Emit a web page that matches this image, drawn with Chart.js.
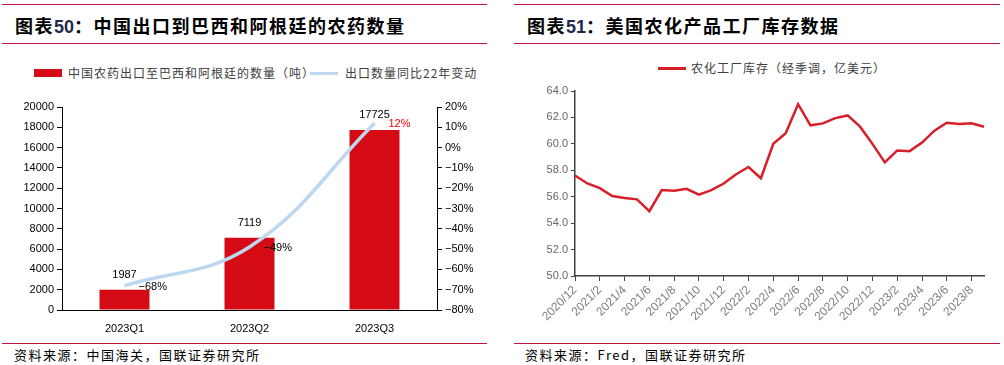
<!DOCTYPE html>
<html>
<head>
<meta charset="utf-8">
<script src="https://cdn.jsdelivr.net/npm/chart.js@4.4.0/dist/chart.umd.min.js"></script>
<style>
body{margin:0;width:1004px;height:365px;background:#fff;position:relative;overflow:hidden;font-family:"Noto Sans CJK SC",sans-serif;}
.rule{position:absolute;height:0;border-top:1.5px solid #C0143C;}
.title{position:absolute;top:12px;font-size:18px;font-weight:700;letter-spacing:1.5px;color:#000;line-height:26px;white-space:nowrap;}
.title .num{font-family:"Liberation Sans",Arial,sans-serif;color:#1F2A4C;letter-spacing:0;}
.legend{position:absolute;font-size:12px;color:#404040;line-height:16px;white-space:nowrap;letter-spacing:1px;}
.sw{position:absolute;}
.src{position:absolute;top:346px;font-size:13px;line-height:18px;color:#000;letter-spacing:1.5px;white-space:nowrap;}
canvas{position:absolute;}
</style>
</head>
<body>
<div class="rule" style="left:2px;top:4px;width:485px"></div>
<div class="title" style="left:15px">图表<span class="num">50</span>：中国出口到巴西和阿根廷的农药数量</div>
<div class="rule" style="left:2px;top:43px;width:485px"></div>

<div class="rule" style="left:514px;top:4px;width:486px"></div>
<div class="title" style="left:527px">图表<span class="num">51</span>：美国农化产品工厂库存数据</div>
<div class="rule" style="left:514px;top:43px;width:486px"></div>

<div class="sw" style="left:34px;top:69px;width:28px;height:8px;background:#D40A14"></div>
<div class="legend" id="lg1" style="left:68px;top:65px"></div>
<div class="sw" style="left:310px;top:72px;width:28px;height:3px;background:#BDD7EE"></div>
<div class="legend" id="lg2" style="left:345px;top:65px"></div>

<div class="sw" style="left:658px;top:67px;width:28px;height:2.5px;background:#D81E28"></div>
<div class="legend" id="lg3" style="left:691px;top:60px"></div>

<canvas id="c1" width="490" height="285" style="left:0;top:55px"></canvas>
<canvas id="c2" width="486" height="285" style="left:514px;top:55px"></canvas>

<div class="rule" style="left:2px;top:343px;width:485px"></div>
<div class="src" style="left:14px">资料来源：中国海关，国联证券研究所</div>
<div class="rule" style="left:514px;top:343px;width:486px"></div>
<div class="src" style="left:525px">资料来源：Fred，国联证券研究所</div>

<script>
// 图表50 data
const quarters = ['2023Q1', '2023Q2', '2023Q3'];
const exportTons = [1987, 7119, 17725];
const yoyChange = [-68, -49, 12];
const barName = '中国农药出口至巴西和阿根廷的数量（吨）';
const lineName = '出口数量同比22年变动';

// 图表51 data
const months = ['2020/12', '2021/1', '2021/2', '2021/3', '2021/4', '2021/5', '2021/6', '2021/7', '2021/8', '2021/9', '2021/10', '2021/11',
    '2021/12', '2022/1', '2022/2', '2022/3', '2022/4', '2022/5', '2022/6', '2022/7', '2022/8', '2022/9', '2022/10', '2022/11',
    '2022/12', '2023/1', '2023/2', '2023/3', '2023/4', '2023/5', '2023/6', '2023/7', '2023/8', '2023/9'];
const inventory = [57.6, 57.0, 56.65, 56.05, 55.9, 55.8, 54.9, 56.5, 56.45, 56.6, 56.15, 56.5,
    57.0, 57.7, 58.25, 57.4, 60.0, 60.8, 63.0, 61.4, 61.55, 61.95, 62.15, 61.3,
    60.0, 58.6, 59.5, 59.45, 60.1, 61.0, 61.6, 61.5, 61.55, 61.3];
const invName = '农化工厂库存（经季调，亿美元）';

document.getElementById('lg1').textContent = barName;
document.getElementById('lg2').textContent = lineName;
document.getElementById('lg3').textContent = invName;

const pct = v => (v < 0 ? '\u2212' : '') + Math.abs(v) + '%';
const arial = { family: '"Liberation Sans", Arial, sans-serif', size: 11 };

// value labels on bars and line points
const valueLabels = {
    id: 'valueLabels',
    afterDatasetsDraw(chart) {
        const ctx = chart.ctx;
        const bars = chart.getDatasetMeta(0).data;
        const pts = chart.getDatasetMeta(1).data;
        ctx.save();
        ctx.font = '11px "Liberation Sans", Arial, sans-serif';
        ctx.textBaseline = 'middle';
        ctx.textAlign = 'center';
        ctx.fillStyle = '#000';
        bars.forEach((b, i) => ctx.fillText(String(exportTons[i]), b.x, b.y - 15));
        ctx.textAlign = 'left';
        pts.forEach((p, i) => {
            ctx.fillStyle = yoyChange[i] > 0 ? '#FF0000' : '#000';
            ctx.fillText(pct(yoyChange[i]), p.x + 14, p.y + 1);
        });
        ctx.restore();
    }
};

new Chart(document.getElementById('c1'), {
    type: 'bar',
    data: {
        labels: quarters,
        datasets: [{
            label: barName,
            data: exportTons,
            backgroundColor: '#D40A14',
            categoryPercentage: 1,
            barPercentage: 0.4,
            yAxisID: 'y',
            order: 2
        }, {
            type: 'line',
            label: lineName,
            data: yoyChange,
            borderColor: '#BDD7EE',
            borderWidth: 3.5,
            pointRadius: 0,
            tension: 0.4,
            yAxisID: 'y1',
            order: 1
        }]
    },
    options: {
        responsive: false,
        animation: false,
        layout: { padding: { top: 52, left: 0, right: 0, bottom: 0 } },
        plugins: { legend: { display: false }, tooltip: { enabled: false } },
        scales: {
            x: {
                grid: { display: false, drawTicks: false },
                border: { color: '#000', width: 1 },
                ticks: { color: '#000', font: arial, padding: 12 },
                afterFit: s => { s.height = 30; }
            },
            y: {
                position: 'left',
                min: 0, max: 20000,
                ticks: { stepSize: 2000, color: '#000', font: arial, padding: 3, callback: v => String(v) },
                grid: { drawOnChartArea: false, tickLength: 5, color: '#000' },
                border: { color: '#000', width: 1 },
                afterFit: s => { s.width = 62; }
            },
            y1: {
                position: 'right',
                min: -80, max: 20,
                ticks: { stepSize: 10, color: '#000', font: arial, padding: 3, callback: v => pct(v) },
                grid: { drawOnChartArea: false, tickLength: 5, color: '#000' },
                border: { color: '#000', width: 1 },
                afterFit: s => { s.width = 53; }
            }
        }
    },
    plugins: [valueLabels]
});

new Chart(document.getElementById('c2'), {
    type: 'line',
    data: {
        labels: months,
        datasets: [{
            label: invName,
            data: inventory,
            borderColor: '#D81E28',
            borderWidth: 2.5,
            pointRadius: 0,
            tension: 0
        }]
    },
    options: {
        responsive: false,
        animation: false,
        layout: { padding: { top: 36, right: 16, left: 0, bottom: 0 } },
        plugins: { legend: { display: false }, tooltip: { enabled: false } },
        scales: {
            x: {
                ticks: {
                    autoSkip: false, maxRotation: 45, minRotation: 45,
                    color: '#7f7f7f', font: { family: arial.family, size: 12 }, padding: 2,
                    callback: (v, i) => (i % 2 === 0 ? months[i] : '')
                },
                grid: {
                    drawOnChartArea: false, tickLength: 5,
                    color: c => (c.index % 2 === 0 ? '#404040' : 'rgba(0,0,0,0)')
                },
                border: { color: '#404040', width: 1.5 },
                afterFit: s => { s.height = 64; }
            },
            y: {
                min: 50, max: 64,
                ticks: { stepSize: 2, color: '#666', font: arial, padding: 3, callback: v => v.toFixed(1) },
                grid: { drawOnChartArea: false, tickLength: 4, color: '#404040' },
                border: { color: '#404040', width: 1.5 },
                afterFit: s => { s.width = 61; }
            }
        }
    }
});
</script>
</body>
</html>
